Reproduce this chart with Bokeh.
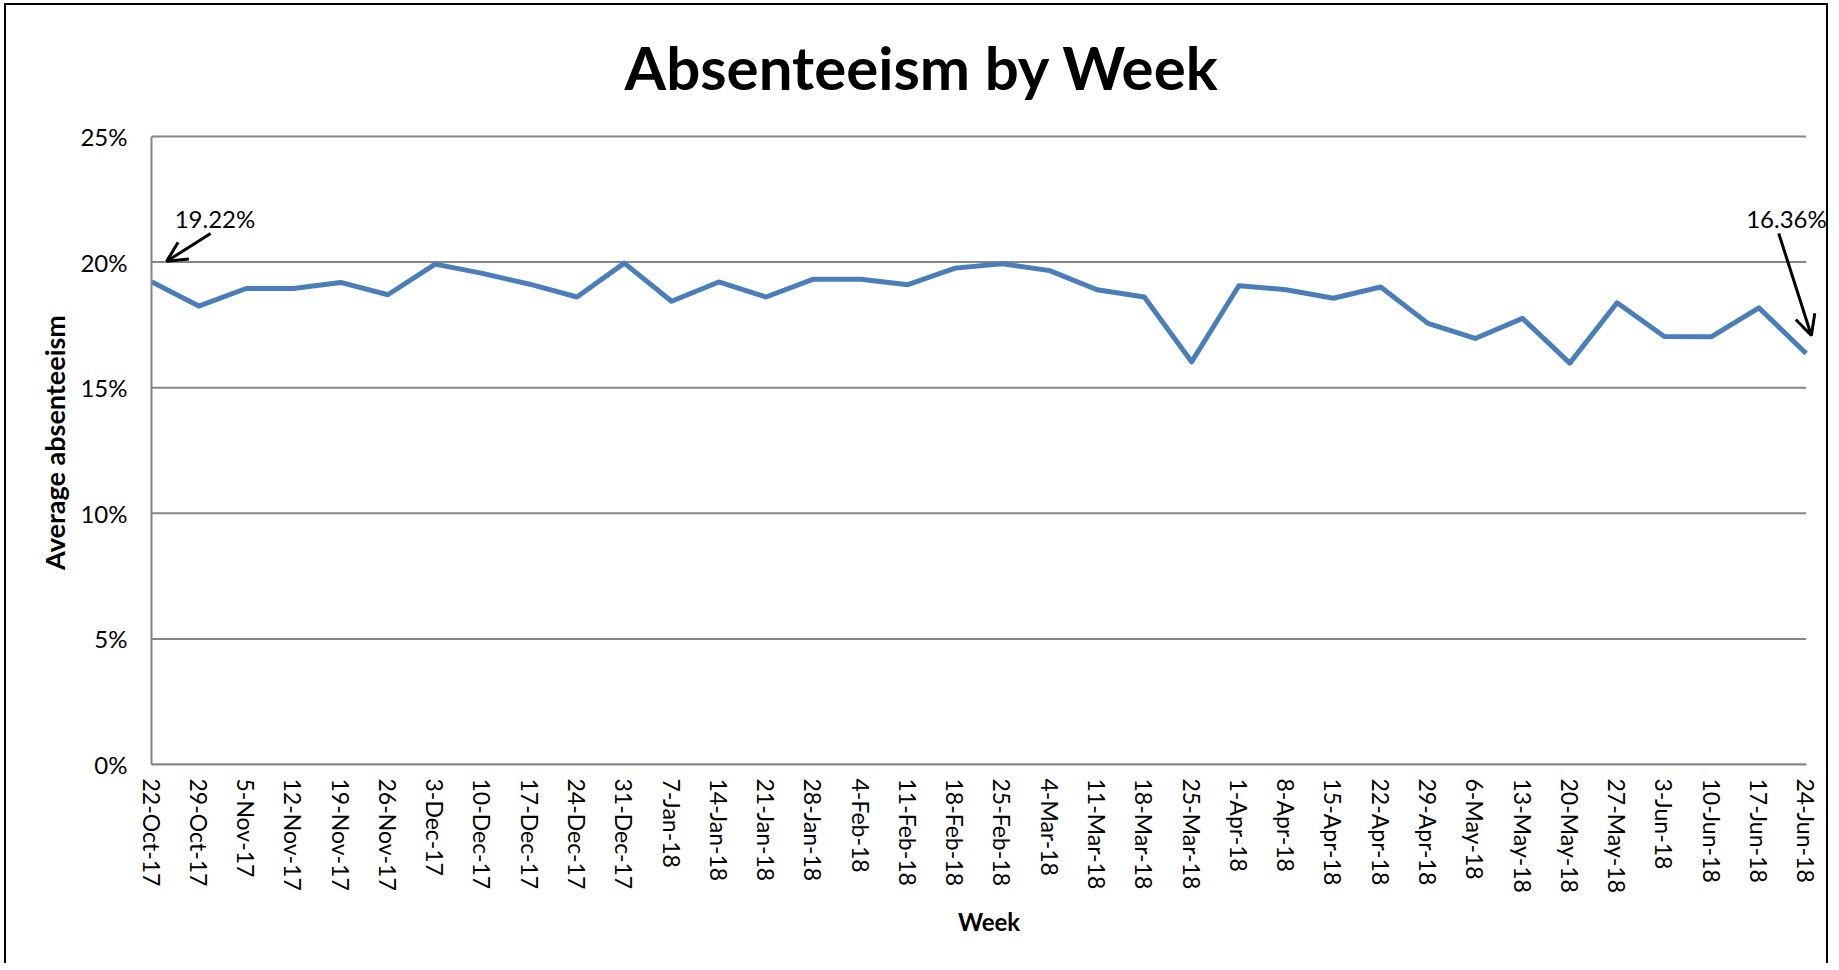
from bokeh.plotting import figure
from bokeh.models import Range1d, FixedTicker, NumeralTickFormatter, Label, Arrow, OpenHead
from bokeh.embed import file_html
from bokeh.resources import INLINE

# ---------------- data ----------------
weeks = ["22-Oct-17", "29-Oct-17", "5-Nov-17", "12-Nov-17", "19-Nov-17", "26-Nov-17",
         "3-Dec-17", "10-Dec-17", "17-Dec-17", "24-Dec-17", "31-Dec-17", "7-Jan-18",
         "14-Jan-18", "21-Jan-18", "28-Jan-18", "4-Feb-18", "11-Feb-18", "18-Feb-18",
         "25-Feb-18", "4-Mar-18", "11-Mar-18", "18-Mar-18", "25-Mar-18", "1-Apr-18",
         "8-Apr-18", "15-Apr-18", "22-Apr-18", "29-Apr-18", "6-May-18", "13-May-18",
         "20-May-18", "27-May-18", "3-Jun-18", "10-Jun-18", "17-Jun-18", "24-Jun-18"]
absenteeism = [0.1922, 0.1825, 0.1895, 0.1895, 0.1919, 0.1870,
               0.1992, 0.1955, 0.1912, 0.1861, 0.1996, 0.1844,
               0.1921, 0.1861, 0.1932, 0.1932, 0.1910, 0.1976,
               0.1993, 0.1966, 0.1890, 0.1861, 0.1603, 0.1906,
               0.1890, 0.1856, 0.1901, 0.1756, 0.1696, 0.1776,
               0.1598, 0.1838, 0.1704, 0.1703, 0.1818, 0.1636]
y_ticks = [0.0, 0.05, 0.10, 0.15, 0.20, 0.25]
title = "Absenteeism by Week"
x_title = "Week"
y_title = "Average absenteeism"

x_idx = list(range(len(weeks)))
first_i, last_i = 0, len(weeks) - 1

GRID = "#868686"
LINE = "#4A7EBB"
FONT = "Lato"

W, H = 1824, 960
TOP, FH = 131, 628       # top of the 25% line and height of the 0-25% band (px)
FRAME_TOP = 10           # frame extends above the 25% line to hold the title
y_top = y_ticks[-1] * (FH + TOP - FRAME_TOP) / FH

p = figure(width=W, height=H, output_backend="svg", toolbar_location=None,
           x_range=Range1d(first_i, last_i + 0.43), y_range=Range1d(y_ticks[0], y_top),
           min_border_left=145, min_border_right=4, min_border_top=FRAME_TOP,
           min_border_bottom=H - TOP - FH)
p.styles = {"border-left": "2px solid black", "border-top": "2px solid black",
            "border-right": "2px solid black", "margin-left": "4px", "margin-top": "3px"}
p.outline_line_color = None
p.background_fill_color = "white"
p.border_fill_color = "white"

# title (as a label inside the extended frame)
p.add_layout(Label(x=16.3, y=0.2777, text=title, text_font=FONT,
                   text_font_size="60px", text_font_style="bold", text_color="black",
                   text_align="center", text_baseline="middle"))

# horizontal gridlines (ending at the last week, as in the reference)
p.segment(x0=[first_i] * len(y_ticks), y0=y_ticks, x1=[last_i] * len(y_ticks), y1=y_ticks,
          line_color=GRID, line_width=2)

# line
p.line(x_idx, absenteeism, line_color=LINE, line_width=5, line_join="round")

# axes
xa = p.xaxis[0]
xa.ticker = FixedTicker(ticks=x_idx)
xa.bounds = (first_i, last_i)
xa.major_label_overrides = {i: w for i, w in enumerate(weeks)}
xa.major_label_orientation = "vertical"
xa.major_label_text_font = FONT
xa.major_label_text_font_size = "23px"
xa.major_label_text_color = "black"
xa.major_label_standoff = 8
xa.axis_label = x_title
xa.axis_label_text_font = FONT
xa.axis_label_text_font_size = "24px"
xa.axis_label_text_font_style = "bold"
xa.axis_label_text_color = "black"
xa.axis_label_standoff = 11
xa.axis_line_color = GRID
xa.axis_line_width = 2
xa.major_tick_line_color = None
xa.minor_tick_line_color = None

ya = p.yaxis[0]
ya.ticker = FixedTicker(ticks=y_ticks)
ya.bounds = (y_ticks[0], y_ticks[-1])
ya.formatter = NumeralTickFormatter(format="0%")
ya.major_label_text_font = FONT
ya.major_label_text_font_size = "24px"
ya.major_label_text_color = "black"
ya.major_label_standoff = 18
# the frame is centred higher than the 0-25% band; pad the end of the rotated
# label with no-break spaces so the visible words are centred on the band
ya.axis_label = y_title + "\u00a0" * 16
ya.axis_label_text_font = FONT
ya.axis_label_text_font_size = "27px"
ya.axis_label_text_font_style = "bold"
ya.axis_label_text_color = "black"
ya.axis_label_standoff = 6
ya.axis_line_color = GRID
ya.axis_line_width = 2
ya.major_tick_line_color = None
ya.minor_tick_line_color = None

p.xgrid.grid_line_color = None
p.ygrid.grid_line_color = None

# annotations: first and last values
first_v, last_v = absenteeism[first_i], absenteeism[last_i]

p.add_layout(Label(x=first_i + 0.49, y=0.2172, text=f"{first_v*100:.2f}%",
                   text_font=FONT, text_font_size="24px", text_color="black",
                   text_baseline="alphabetic", text_align="left"))
p.add_layout(Arrow(x_start=first_i + 1.25, y_start=0.2114,
                   x_end=first_i + 0.32, y_end=first_v + 0.0081,
                   line_color="black", line_width=3,
                   end=OpenHead(size=20, line_color="black", line_width=3)))

p.add_layout(Label(x=last_i - 1.27, y=0.2172, text=f"{last_v*100:.2f}%",
                   text_font=FONT, text_font_size="24px", text_color="black",
                   text_baseline="alphabetic", text_align="left"))
p.add_layout(Arrow(x_start=last_i - 0.58, y_start=0.2114,
                   x_end=last_i + 0.11, y_end=last_v + 0.0072,
                   line_color="black", line_width=3,
                   end=OpenHead(size=20, line_color="black", line_width=3)))

open("out.html", "w").write(file_html(p, INLINE))
